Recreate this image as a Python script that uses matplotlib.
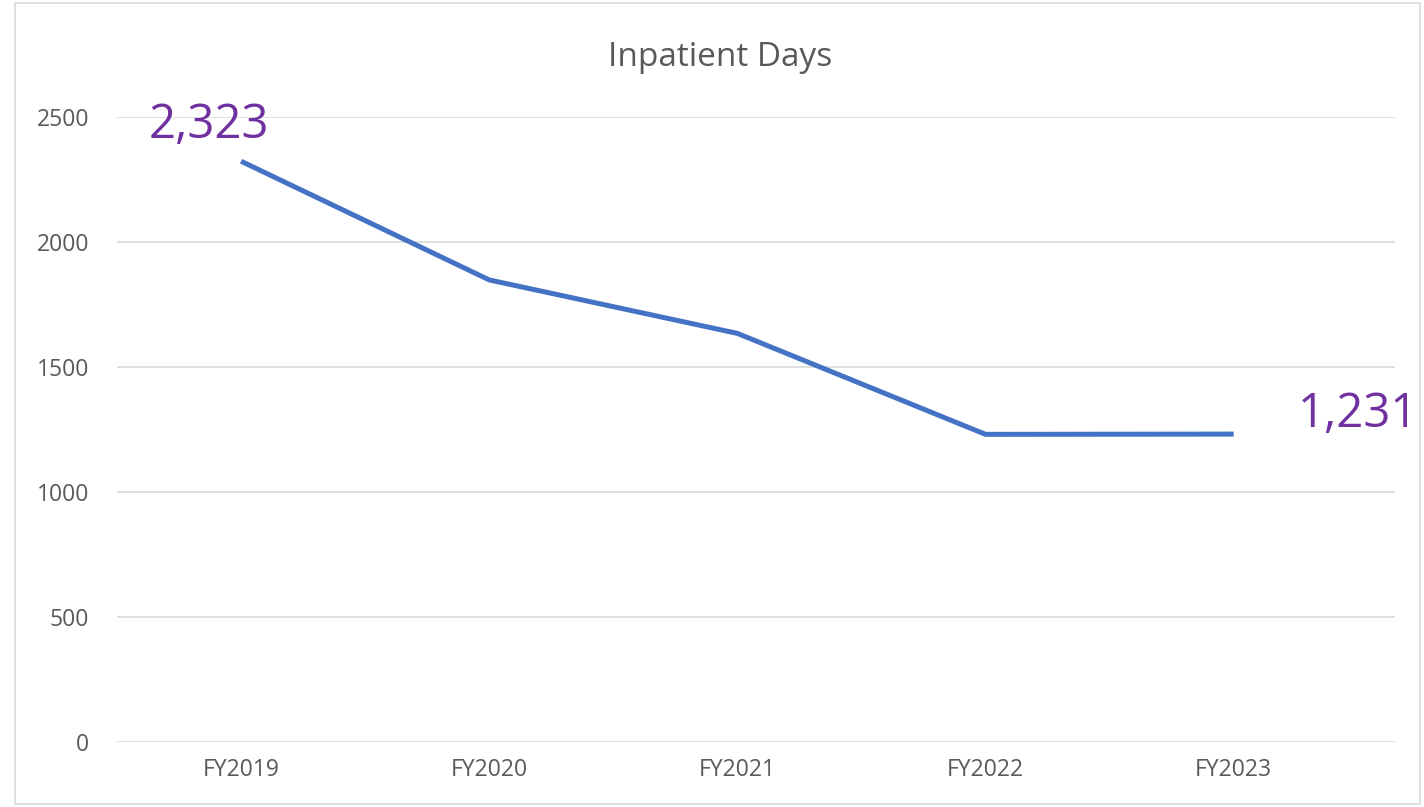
import matplotlib.pyplot as plt
from matplotlib.patches import Rectangle

# data
years = ["FY2019", "FY2020", "FY2021", "FY2022", "FY2023"]
days = [2323, 1848, 1634, 1230, 1231]
y_ticks = [0, 500, 1000, 1500, 2000, 2500]

plt.rcParams['font.family'] = ['Open Sans', 'DejaVu Sans']
grey = '#595959'
purple = '#7030A0'

W, H = 1424, 807
fig = plt.figure(figsize=(W / 100, H / 100), dpi=100)
# chart border
fig.patches.append(Rectangle((15 / W, 3 / H), 1405 / W, 801 / H, transform=fig.transFigure,
                             fill=False, edgecolor='#d9d9d9', linewidth=1.2))

ax = fig.add_axes([117 / W, 1 - 741.7 / H, (1395 - 117) / W, (741.7 - 117) / H])
x = list(range(len(years)))
ax.plot(x, days, color='#4472C4', linewidth=3.6, solid_capstyle='butt', zorder=3)

ax.set_xlim(-0.5, 4.65)
ax.set_ylim(0, 2500)
ax.set_yticks(y_ticks)
ax.set_yticklabels([str(v) for v in y_ticks])
ax.set_xticks(x)
ax.set_xticklabels(years)
ax.grid(axis='y', color='#d9d9d9', linewidth=1.2)
ax.set_axisbelow(True)
for s in ax.spines.values():
    s.set_visible(False)
ax.tick_params(axis='both', length=0, colors=grey, labelsize=16.5)
ax.tick_params(axis='y', pad=20)
ax.tick_params(axis='x', pad=12)

fig.text(0.506, 1 - 58 / H, "Inpatient Days", ha='center', va='center', fontsize=24, color=grey)

# end labels
ax.annotate(f"{days[0]:,}", (x[0], days[0]), xytext=(-32, 36), textcoords='offset pixels',
            ha='center', va='center', fontsize=34, color=purple)
ax.annotate(f"{days[-1]:,}", (x[-1], days[-1]), xytext=(64, 20), textcoords='offset pixels',
            ha='left', va='center', fontsize=34, color=purple)

fig.savefig("out.png", dpi=100)
